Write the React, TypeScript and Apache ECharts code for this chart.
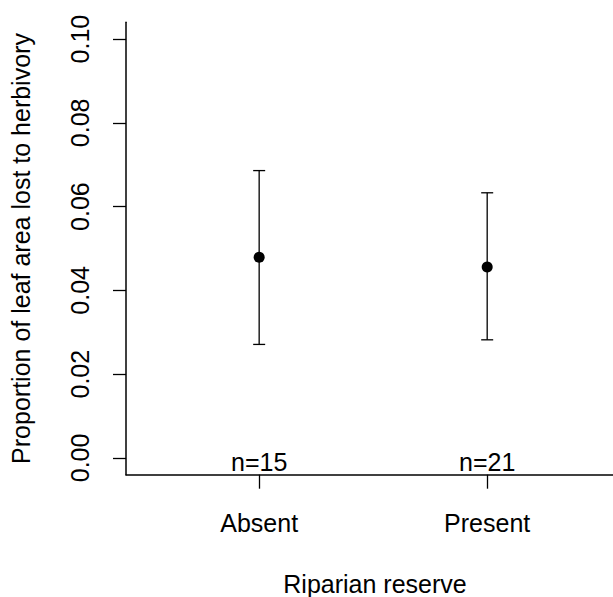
import React, { useEffect, useRef } from "react";
import * as echarts from "echarts";

const categories = ["Absent", "Present"];
const xPositions = [1, 2];
const means = [0.0479, 0.0456];
const upper = [0.0686, 0.0633];
const lower = [0.0271, 0.0282];
const counts = [15, 21];
const yTicks = [0, 0.02, 0.04, 0.06, 0.08, 0.1];

const FONT = "'Liberation Sans', Arial, sans-serif";

export default function App() {
  const ref = useRef<HTMLDivElement>(null);
  useEffect(() => {
    document.body.style.margin = "0";
    const chart = echarts.init(ref.current!, null, { renderer: "svg" });
    const axisLine = { show: true, lineStyle: { color: "#000", width: 1.5 } };
    chart.setOption({
      animation: false,
      backgroundColor: "#fff",
      textStyle: { fontFamily: FONT, color: "#000" },
      grid: { left: 126, top: 22.3, width: 498, height: 452.4, outerBoundsMode: "none", containLabel: false },
      xAxis: {
        type: "value",
        min: 0.416,
        max: 2.6,
        splitLine: { show: false },
        axisLine: { ...axisLine, onZero: false },
        axisTick: { show: true, customValues: xPositions, length: 14, lineStyle: { color: "#000", width: 1.3 } },
        axisLabel: {
          customValues: xPositions,
          formatter: (v: number) => categories[xPositions.indexOf(v)] ?? "",
          fontFamily: FONT,
          fontSize: 25,
          color: "#000",
          margin: 36,
        },
        name: "Riparian reserve",
        nameLocation: "middle",
        nameGap: 97,
        nameTextStyle: { fontFamily: FONT, fontSize: 25, color: "#000" },
      },
      yAxis: {
        type: "value",
        min: -0.004,
        max: 0.104,
        splitLine: { show: false },
        axisLine: { ...axisLine, onZero: false },
        axisTick: { show: true, customValues: yTicks, length: 13, lineStyle: { color: "#000", width: 1.3 } },
        axisLabel: {
          customValues: yTicks,
          formatter: (v: number) => v.toFixed(2),
          rotate: 90,
          fontFamily: FONT,
          fontSize: 25,
          color: "#000",
          margin: 34,
        },
        name: "Proportion of leaf area lost to herbivory",
        nameLocation: "middle",
        nameGap: 93,
        nameTextStyle: { fontFamily: FONT, fontSize: 25, color: "#000" },
      },
      series: [
        {
          type: "custom",
          data: xPositions.map((x, i) => [x, lower[i], upper[i]]),
          renderItem: (params: any, api: any) => {
            const x = api.value(0);
            const top = api.coord([x, api.value(2)]);
            const bot = api.coord([x, api.value(1)]);
            const hw = 6;
            const st = { stroke: "#000", lineWidth: 1.3 };
            return {
              type: "group",
              children: [
                { type: "line", shape: { x1: top[0], y1: top[1], x2: bot[0], y2: bot[1] }, style: st },
                { type: "line", shape: { x1: top[0] - hw, y1: top[1], x2: top[0] + hw, y2: top[1] }, style: st },
                { type: "line", shape: { x1: bot[0] - hw, y1: bot[1], x2: bot[0] + hw, y2: bot[1] }, style: st },
              ],
            };
          },
          z: 2,
        },
        {
          type: "scatter",
          data: xPositions.map((x, i) => [x, means[i]]),
          symbol: "circle",
          symbolSize: 11,
          itemStyle: { color: "#000", opacity: 1 },
          z: 3,
        },
        {
          type: "scatter",
          data: xPositions.map((x) => [x, -0.004]),
          symbolSize: 1,
          itemStyle: { color: "rgba(0,0,0,0)", opacity: 1 },
          clip: false,
          label: {
            show: true,
            position: "top",
            distance: 0,
            offset: [0, 0],
            formatter: (p: any) => `n=${counts[p.dataIndex]}`,
            fontFamily: FONT,
            fontSize: 25,
            color: "#000",
          },
          z: 4,
        },
      ],
    });
    return () => chart.dispose();
  }, []);
  return <div ref={ref} style={{ width: 613, height: 597 }} />;
}
